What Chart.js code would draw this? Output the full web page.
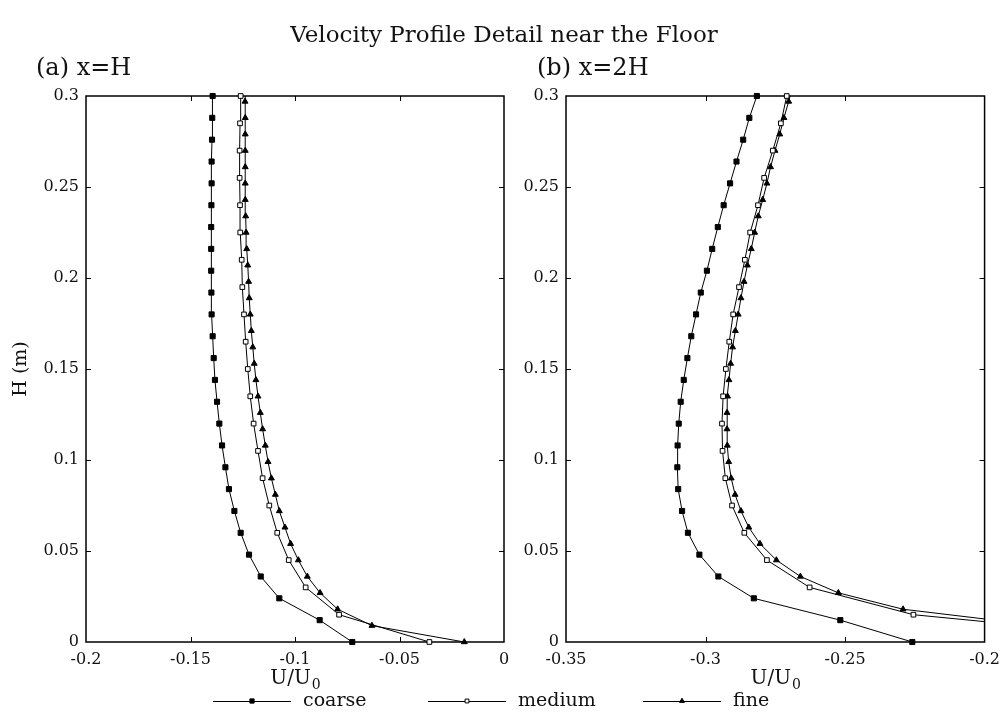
<!DOCTYPE html>
<html><head><meta charset="utf-8">
<script src="https://cdn.jsdelivr.net/npm/chart.js@4.4.1/dist/chart.umd.min.js"></script>
<style>
html,body{margin:0;padding:0;background:#fff;}
#wrap{position:relative;width:1008px;height:720px;background:#fff;}
canvas{position:absolute;left:0;top:0;}
</style></head><body>
<div id="wrap"><canvas id="ca" width="1008" height="720"></canvas><canvas id="cb" width="1008" height="720"></canvas></div>
<script>
const FONT = "'DejaVu Serif', serif";
const chartTitle = "Velocity Profile Detail near the Floor";
const panelTitles = ["(a) x=H", "(b) x=2H"];
const seriesNames = ["coarse", "medium", "fine"];
const xTitleMain = "U/U", xTitleSub = "0";
const yTitle = "H (m)";

const hCoarse = [0,0.012,0.024,0.036,0.048,0.06,0.072,0.084,0.096,0.108,0.12,0.132,0.144,0.156,0.168,0.18,0.192,0.204,0.216,0.228,0.24,0.252,0.264,0.276,0.288,0.3];
const hMedium = [0,0.015,0.03,0.045,0.06,0.075,0.09,0.105,0.12,0.135,0.15,0.165,0.18,0.195,0.21,0.225,0.24,0.255,0.27,0.285,0.3];
const hFine = [0,0.009,0.018,0.027,0.036,0.045,0.054,0.063,0.072,0.081,0.09,0.099,0.108,0.117,0.126,0.135,0.144,0.153,0.162,0.171,0.18,0.189,0.198,0.207,0.216,0.225,0.234,0.243,0.252,0.261,0.27,0.279,0.288,0.297,0.3];

// panel (a) x=H
const aCoarse = [-0.0726,-0.0882,-0.1075,-0.1164,-0.1220,-0.1260,-0.1290,-0.1316,-0.1333,-0.1349,-0.1362,-0.1373,-0.1383,-0.1389,-0.1394,-0.1399,-0.1400,-0.1401,-0.1401,-0.1401,-0.1400,-0.1399,-0.1399,-0.1397,-0.1396,-0.1394];
const aMedium = [-0.0357,-0.0789,-0.0949,-0.1030,-0.1085,-0.1123,-0.1155,-0.1177,-0.1198,-0.1214,-0.1226,-0.1236,-0.1244,-0.1252,-0.1255,-0.1262,-0.1263,-0.1265,-0.1265,-0.1263,-0.1260];
const aFine = [-0.0190,-0.0632,-0.0796,-0.0880,-0.0941,-0.0984,-0.1021,-0.1048,-0.1075,-0.1094,-0.1113,-0.1129,-0.1142,-0.1155,-0.1166,-0.1177,-0.1187,-0.1195,-0.1202,-0.1209,-0.1214,-0.1219,-0.1222,-0.1226,-0.1231,-0.1234,-0.1236,-0.1238,-0.1238,-0.1238,-0.1238,-0.1238,-0.1238,-0.1239,-0.1239];

// panel (b) x=2H
const bCoarse = [-0.2259,-0.2517,-0.2827,-0.2954,-0.3022,-0.3063,-0.3084,-0.3098,-0.3101,-0.3100,-0.3096,-0.3089,-0.3078,-0.3065,-0.3051,-0.3034,-0.3017,-0.2995,-0.2976,-0.2956,-0.2935,-0.2912,-0.2889,-0.2865,-0.2843,-0.2816];
const bMedium = [-0.125,-0.2255,-0.2627,-0.2780,-0.2861,-0.2905,-0.2929,-0.2939,-0.2941,-0.2937,-0.2927,-0.2915,-0.2901,-0.2880,-0.2859,-0.2840,-0.2812,-0.2790,-0.2759,-0.2730,-0.2709];
const bFine = [-0.12,-0.18,-0.2292,-0.2524,-0.2660,-0.2746,-0.2805,-0.2845,-0.2873,-0.2894,-0.2908,-0.2917,-0.2922,-0.2923,-0.2923,-0.2921,-0.2916,-0.2910,-0.2903,-0.2893,-0.2883,-0.2873,-0.2862,-0.2850,-0.2836,-0.2824,-0.2811,-0.2795,-0.2780,-0.2767,-0.2751,-0.2734,-0.2719,-0.2702,-0.2697];

const yTickVals = [0,0.05,0.1,0.15,0.2,0.25,0.3];
const yTickLabels = ["0","0.05","0.1","0.15","0.2","0.25","0.3"];
const xTickValsA = [-0.2,-0.15,-0.1,-0.05,0];
const xTickLabelsA = ["-0.2","-0.15","-0.1","-0.05","0"];
const xTickValsB = [-0.35,-0.3,-0.25,-0.2];
const xTickLabelsB = ["-0.35","-0.3","-0.25","-0.2"];

const seriesStyle = [
  {pointStyle:'rect', radius:3.6, fill:'#000'},
  {pointStyle:'rect', radius:3.3, fill:'#fff'},
  {pointStyle:'triangle', radius:3.4, fill:'#000'}
];

function pts(xs, hs){ return xs.map((v,i)=>({x:v, y:hs[i]})); }

function makeDatasets(c, m, f){
  const lists = [[c,hCoarse],[m,hMedium],[f,hFine]];
  return lists.map((l,i)=>{
    const st = seriesStyle[i];
    const n = l[1].length;
    return {
      label: seriesNames[i],
      data: pts(l[0], l[1]),
      showLine: true,
      borderColor: '#000',
      borderWidth: 1,
      pointStyle: st.pointStyle,
      pointRadius: (ctx)=> (i===2 && ctx.dataIndex===n-1) ? 0 : st.radius,
      pointBackgroundColor: st.fill,
      pointBorderColor: '#000',
      pointBorderWidth: 1,
      pointHoverRadius: 0,
      clip: {left:6, top:6, right:0, bottom:6}
    };
  });
}

const framePlugin = {
  id:'frame',
  beforeDatasetsDraw(chart){
    const {ctx, chartArea:a, scales:{x, y}} = chart;
    ctx.save();
    ctx.strokeStyle = '#000';
    ctx.lineWidth = 1.5;
    ctx.strokeRect(a.left, a.top, a.right-a.left, a.bottom-a.top);
    ctx.lineWidth = 1;
    const L = 5;
    ctx.beginPath();
    x.ticks.forEach(t=>{
      const px = Math.round(x.getPixelForValue(t.value))+0.5;
      if (px < a.left+2 || px > a.right-2) return;
      ctx.moveTo(px, a.bottom); ctx.lineTo(px, a.bottom-L);
      ctx.moveTo(px, a.top); ctx.lineTo(px, a.top+L);
    });
    y.ticks.forEach(t=>{
      const py = Math.round(y.getPixelForValue(t.value))+0.5;
      if (py < a.top+2 || py > a.bottom-2) return;
      ctx.moveTo(a.left, py); ctx.lineTo(a.left+L, py);
      ctx.moveTo(a.right, py); ctx.lineTo(a.right-L, py);
    });
    ctx.stroke();
    ctx.restore();
  }
};

function drawXTitle(ctx, cx, cy){
  ctx.save();
  ctx.fillStyle = '#111';
  ctx.textBaseline = 'alphabetic';
  ctx.textAlign = 'left';
  ctx.font = "20px " + FONT;
  const w1 = ctx.measureText(xTitleMain).width;
  ctx.font = "14px " + FONT;
  const w2 = ctx.measureText(xTitleSub).width;
  const x0 = cx - (w1+w2)/2;
  ctx.font = "20px " + FONT;
  ctx.fillText(xTitleMain, x0, cy+7);
  ctx.font = "14px " + FONT;
  ctx.fillText(xTitleSub, x0+w1+1, cy+12);
  ctx.restore();
}

function makeTextPlugin(panel){
  return {
    id:'texts'+panel,
    afterDraw(chart){
      const {ctx, chartArea:a} = chart;
      ctx.save();
      ctx.fillStyle = '#111';
      if (panel === 0) {
        ctx.font = "23px " + FONT;
        ctx.textAlign = 'center'; ctx.textBaseline = 'middle';
        ctx.fillText(chartTitle, 504, 36);
        // y title
        ctx.save();
        ctx.translate(21, (a.top+a.bottom)/2);
        ctx.rotate(-Math.PI/2);
        ctx.font = "19px " + FONT;
        ctx.fillText(yTitle, 0, 0);
        ctx.restore();
        // legend
        const legX = [213, 428, 643];
        const ly = 701;
        seriesNames.forEach((nm,i)=>{
          const st = seriesStyle[i];
          const x0 = legX[i], x1 = legX[i]+78;
          ctx.strokeStyle = '#000'; ctx.lineWidth = 1;
          ctx.beginPath(); ctx.moveTo(x0, ly+0.5); ctx.lineTo(x1, ly+0.5); ctx.stroke();
          ctx.fillStyle = st.fill;
          if (Chart.helpers && Chart.helpers.drawPoint) {
            Chart.helpers.drawPoint(ctx, {pointStyle: st.pointStyle, radius: st.radius-0.6, rotation:0, borderWidth:1}, (x0+x1)/2, ly);
          }
          ctx.fillStyle = '#111';
          ctx.font = "19px " + FONT;
          ctx.textAlign = 'left'; ctx.textBaseline = 'middle';
          ctx.fillText(nm, x1+12, ly);
        });
      }
      ctx.fillStyle = '#111';
      ctx.font = "24px " + FONT;
      ctx.textAlign = 'left'; ctx.textBaseline = 'middle';
      ctx.fillText(panelTitles[panel], panel===0 ? 36 : 537, 69);
      drawXTitle(ctx, (a.left+a.right)/2, 677);
      ctx.restore();
    }
  };
}

function makeChart(id, panel, datasets, xmin, xmax, xVals, xLabels, pad){
  return new Chart(document.getElementById(id), {
    type: 'scatter',
    data: { datasets },
    options: {
      responsive: false,
      animation: false,
      devicePixelRatio: 1,
      layout: { padding: pad },
      plugins: { legend:{display:false}, tooltip:{enabled:false}, title:{display:false} },
      events: [],
      scales: {
        x: {
          type:'linear', min:xmin, max:xmax,
          grid:{display:false, drawTicks:false},
          border:{display:false},
          afterBuildTicks: s => { s.ticks = xVals.map(v=>({value:v})); },
          afterFit: s => { s.height = 78; },
          ticks:{
            padding: 8, color:'#111', maxRotation:0, autoSkip:false,
            font:{family:FONT, size:16},
            callback: (v)=> { const k = xVals.findIndex(t=>Math.abs(t-v)<1e-9); return k>=0 ? xLabels[k] : ''; }
          }
        },
        y: {
          type:'linear', min:0, max:0.3,
          grid:{display:false, drawTicks:false},
          border:{display:false},
          afterBuildTicks: s => { s.ticks = yTickVals.map(v=>({value:v})); },
          afterFit: s => { s.width = 86; },
          ticks:{
            padding: 7, color:'#111', autoSkip:false,
            font:{family:FONT, size:16},
            callback: (v)=> { const k = yTickVals.findIndex(t=>Math.abs(t-v)<1e-9); return k>=0 ? yTickLabels[k] : ''; }
          }
        }
      }
    },
    plugins: [framePlugin, makeTextPlugin(panel)]
  });
}

makeChart('ca', 0, makeDatasets(aCoarse, aMedium, aFine), -0.2, 0, xTickValsA, xTickLabelsA, {left:0, right:504, top:96, bottom:0});
makeChart('cb', 1, makeDatasets(bCoarse, bMedium, bFine), -0.35, -0.2, xTickValsB, xTickLabelsB, {left:480, right:19, top:96, bottom:0});
</script>
</body></html>
